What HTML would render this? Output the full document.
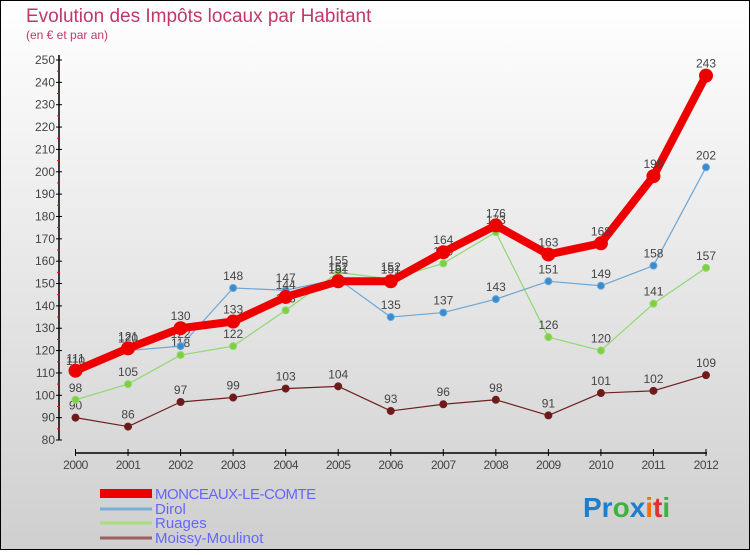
<!DOCTYPE html>
<html><head><meta charset="utf-8"><style>
html,body{margin:0;padding:0}
body{width:750px;height:550px;overflow:hidden;font-family:"Liberation Sans",sans-serif}
</style></head><body>
<svg id="chart" width="750" height="550" xmlns="http://www.w3.org/2000/svg" font-family="Liberation Sans, sans-serif">
<defs><linearGradient id="bg" x1="0" y1="0" x2="0" y2="1"><stop offset="0" stop-color="#ffffff"/><stop offset="1" stop-color="#cfcfcf"/></linearGradient></defs>
<rect x="0.5" y="0.5" width="749" height="549" fill="url(#bg)" stroke="#000"/>
<text x="26" y="22" font-size="19" fill="#c0386a">Evolution des Impôts locaux par Habitant</text>
<text x="26" y="39" font-size="12" fill="#c0386a">(en € et par an)</text>
<g id="axes"></g>
<g id="series"></g>
<g id="legend">
<rect x="100" y="489" width="52" height="9" fill="#e00"/>
<text x="155" y="499" font-size="15" fill="#6666ff" letter-spacing="-0.5">MONCEAUX-LE-COMTE</text>
<line x1="100" y1="509" x2="152" y2="509" stroke="#7aaed6" stroke-width="3"/>
<text x="155" y="514" font-size="15" fill="#6666ff">Dirol</text>
<line x1="100" y1="523" x2="152" y2="523" stroke="#a6e07a" stroke-width="3"/>
<text x="155" y="528" font-size="15" fill="#6666ff">Ruages</text>
<line x1="100" y1="538" x2="152" y2="538" stroke="#9b6060" stroke-width="3"/>
<text x="155" y="543" font-size="15" fill="#6666ff">Moissy-Moulinot</text>
</g>
<g font-size="28" font-weight="bold">
<text x="583" y="517"><tspan fill="#1a7fd0">Pr</tspan><tspan fill="#40b040">o</tspan><tspan fill="#1a7fd0">x</tspan><tspan fill="#f07010">i</tspan><tspan fill="#e03030">t</tspan><tspan fill="#40b040">i</tspan></text>
</g>
</svg>
<script>
const years = [2000,2001,2002,2003,2004,2005,2006,2007,2008,2009,2010,2011,2012];
const yTicks = [80,90,100,110,120,130,140,150,160,170,180,190,200,210,220,230,240,250];
const monceaux = [111,121,130,133,144,151,151,164,176,163,168,198,243];
const dirol = [110,120,122,148,147,152,135,137,143,151,149,158,202];
const ruages = [98,105,118,122,138,155,152,159,173,126,120,141,157];
const moissy = [90,86,97,99,103,104,93,96,98,91,101,102,109];
const NS="http://www.w3.org/2000/svg";
function xs(i){return 75.5+i*(706-75.5)/(years.length-1);}
function ys(v){return 440-(v-80)*(380/170);}
function mk(tag,attrs,parent){const e=document.createElementNS(NS,tag);for(const k in attrs)e.setAttribute(k,attrs[k]);parent.appendChild(e);return e;}
const axes=document.getElementById('axes');
const ya=mk('line',{x1:59,y1:55,x2:59,y2:440,stroke:'#000','stroke-width':1.5},axes);


yTicks.forEach((t,i)=>{
  const y=ys(t);
  mk('line',{x1:56,y1:y,x2:62,y2:y,stroke:'#000'},axes);
  if(i<yTicks.length-1) mk('line',{x1:57,y1:ys(t+5),x2:60,y2:ys(t+5),stroke:'#f00'},axes);
  const tx=mk('text',{x:55,y:y+4,'text-anchor':'end','font-size':12,fill:'#444'},axes);
  
  
  tx.textContent=t;
});
const xa=mk('line',{x1:75,y1:453,x2:707,y2:453,stroke:'#000','stroke-width':1.5},axes);


years.forEach((yr,i)=>{
  const x=xs(i);
  mk('line',{x1:x,y1:449,x2:x,y2:456,stroke:'#000'},axes);
  const tx=mk('text',{x:x,y:469,'text-anchor':'middle','font-size':12,fill:'#444','letter-spacing':'-0.5'},axes);
  
  
  tx.textContent=yr;
});
const sg=document.getElementById('series');
function draw(vals,name,color,fill,w,r){
  const g=mk('g',{},sg);
  
  
  const pl=mk('polyline',{points:vals.map((v,i)=>xs(i)+','+ys(v)).join(' '),fill:'none',stroke:color,'stroke-width':w,'stroke-linejoin':'round'},g);
  
  
  vals.forEach((v,i)=>{
    const c=mk('circle',{cx:xs(i),cy:ys(v),r:r,fill:fill,stroke:color,'stroke-width':1},g);
    
    
    const t=mk('text',{x:xs(i),y:ys(v)-8,'text-anchor':'middle','font-size':12,fill:'#444'},g);
    
    
    t.textContent=v;
  });
}
draw(moissy,'moissy','#6e2020','#6e1a1a',1.2,3.5);
draw(ruages,'ruages','#90d870','#7ed040',1.2,3.5);
draw(dirol,'dirol','#6aa6d6','#3a8ad0',1.2,3.5);
draw(monceaux,'monceaux','#ee0000','#ee0000',8,6.5);
draw(dirol.slice(0,0),'none','#000','#000',0,0);
</script>
</body></html>
